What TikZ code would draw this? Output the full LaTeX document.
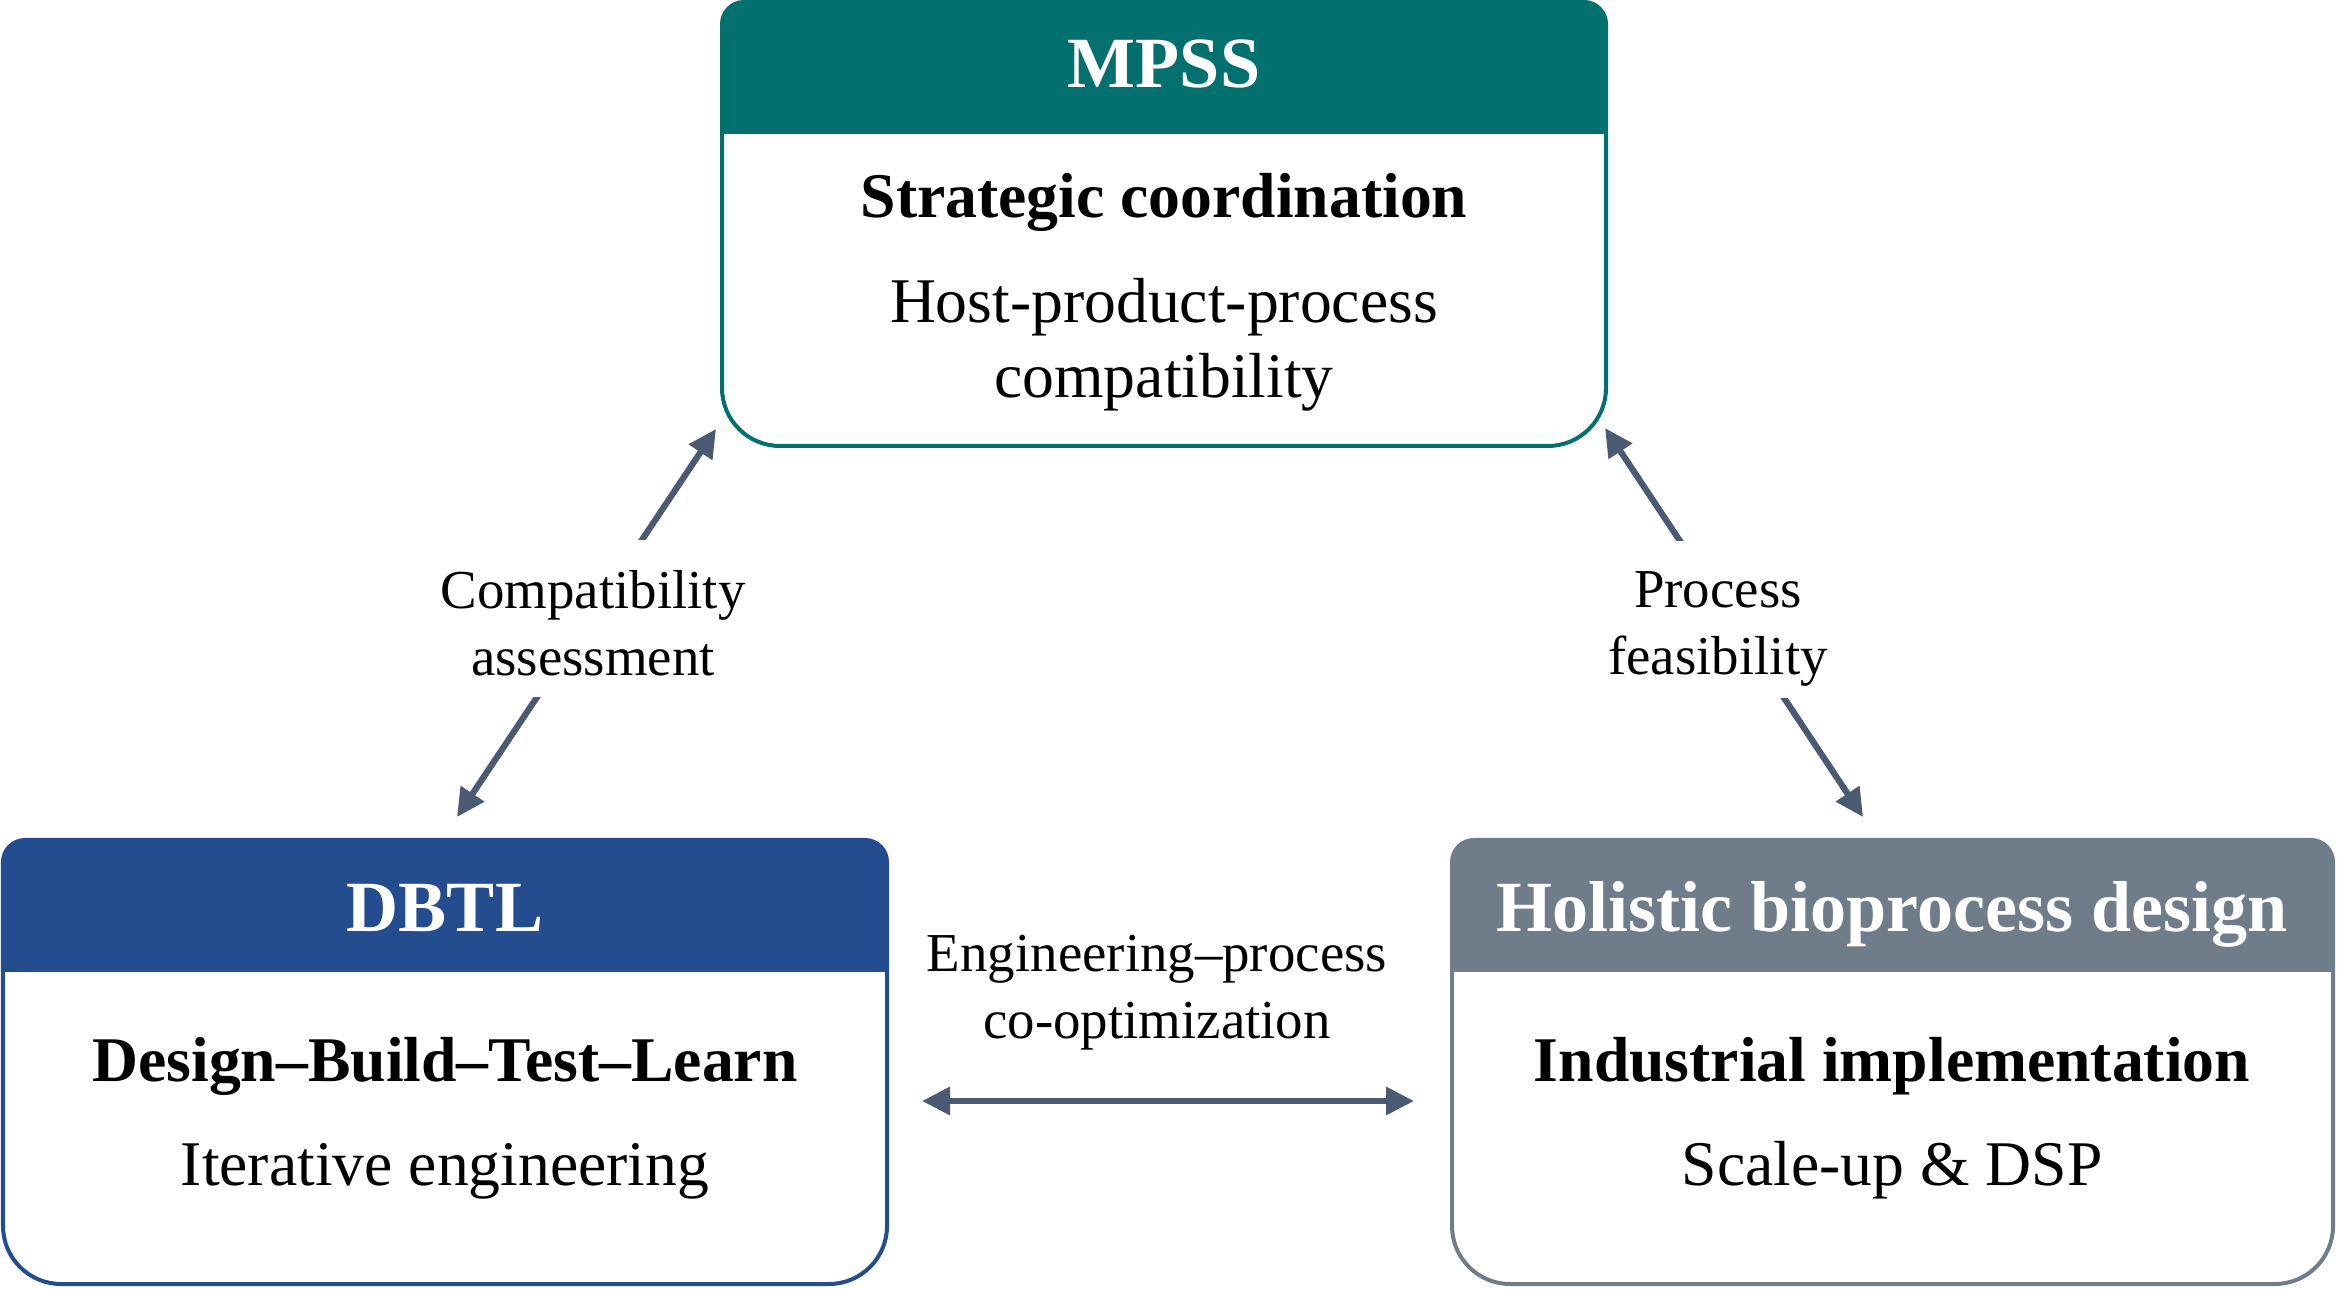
\documentclass[tikz,border=0pt]{standalone}
\usepackage{fontspec}
\setmainfont{Liberation Serif}
\usetikzlibrary{arrows.meta}
\pgfdeclarelayer{bg}
\pgfsetlayers{bg,main}
\definecolor{tealc}{RGB}{2,112,110}
\definecolor{bluec}{RGB}{35,77,143}
\definecolor{grayc}{RGB}{111,125,139}
\definecolor{arrowc}{RGB}{74,90,114}
\newcommand\mypanel[6]{%
  \fill[#1] (#2,#6) -- (#2,#5-22) arc[start angle=180,end angle=90,radius=22] -- (#3-22,#5) arc[start angle=90,end angle=0,radius=22] -- (#3,#6) -- cycle;
  \draw[#1,line width=0.04cm] (#2,#5-22) arc[start angle=180,end angle=90,radius=22] -- (#3-22,#5) arc[start angle=90,end angle=0,radius=22] -- (#3,#4+58) arc[start angle=0,end angle=-90,radius=58] -- (#2+58,#4) arc[start angle=270,end angle=180,radius=58] -- cycle;
}
\tikzset{
  headtxt/.style={anchor=base,text=white,font=\fontsize{20.5pt}{24pt}\selectfont\bfseries,inner sep=0},
  boldtxt/.style={anchor=base,font=\fontsize{18.1pt}{22pt}\selectfont\bfseries,inner sep=0},
  bodytxt/.style={anchor=base,font=\fontsize{18.1pt}{22pt}\selectfont,inner sep=0},
  lbl/.style={align=center,font=\fontsize{15.6pt}{19pt}\selectfont,inner sep=0},
  conn/.style={arrowc,line width=0.062cm,{Triangle[length=0.28cm,width=0.27cm]}-{Triangle[length=0.28cm,width=0.27cm]}}
}
\begin{document}
\begin{tikzpicture}[x=0.01cm,y=0.01cm]
\useasboundingbox (0,0) rectangle (2337,1288);
% panels
\mypanel{tealc}{722}{1606}{842}{1286}{1154}
\mypanel{bluec}{3}{887}{4}{448}{316}
\mypanel{grayc}{1452}{2333}{4}{448}{316}
% MPSS texts
\node[headtxt] (mpss) at (1164,1200) {MPSS};
\node[boldtxt] (mpssa) at (1164,1070) {Strategic coordination};
\node[bodytxt] (mpssb) at (1164,965) {Host-product-process};
\node[bodytxt] (mpssc) at (1164,890) {compatibility};
% DBTL texts
\node[headtxt] (dbtl) at (445,356) {DBTL};
\node[boldtxt] (dbtla) at (445,206) {Design–Build–Test–Learn};
\node[bodytxt] (dbtlb) at (445,103) {Iterative engineering};
% Holistic texts
\node[headtxt] (hbd) at (1892,356) {Holistic bioprocess design};
\node[boldtxt] (hbda) at (1892,206) {Industrial implementation};
\node[bodytxt] (hbdb) at (1892,103) {Scale-up \& DSP};
% labels
\node[lbl] (lab1) at (593,665) {Compatibility\\assessment};
\node[lbl] (lab2) at (1718,659) {Process\\feasibility};
\node[lbl] (lab3) at (1157,295) {Engineering–process\\co-optimization};
% connector end points
\coordinate (l1) at (457,471);
\coordinate (l2) at (716,859);
\coordinate (r1) at (1605,860);
\coordinate (r2) at (1863,471);
\coordinate (h1) at (922,187);
\coordinate (h2) at (1414,187);
\begin{pgfonlayer}{bg}
\draw[conn] (l1) -- (l2);
\draw[conn] (r1) -- (r2);
\draw[conn] (h1) -- (h2);
\fill[white] ([xshift=-0.2cm,yshift=0.3cm]lab1.north west) rectangle ([xshift=0.2cm,yshift=-0.21cm]lab1.south east);
\fill[white] ([xshift=-0.2cm,yshift=0.3cm]lab2.north west) rectangle ([xshift=0.2cm,yshift=-0.11cm]lab2.south east);
\end{pgfonlayer}
\end{tikzpicture}
\end{document}
